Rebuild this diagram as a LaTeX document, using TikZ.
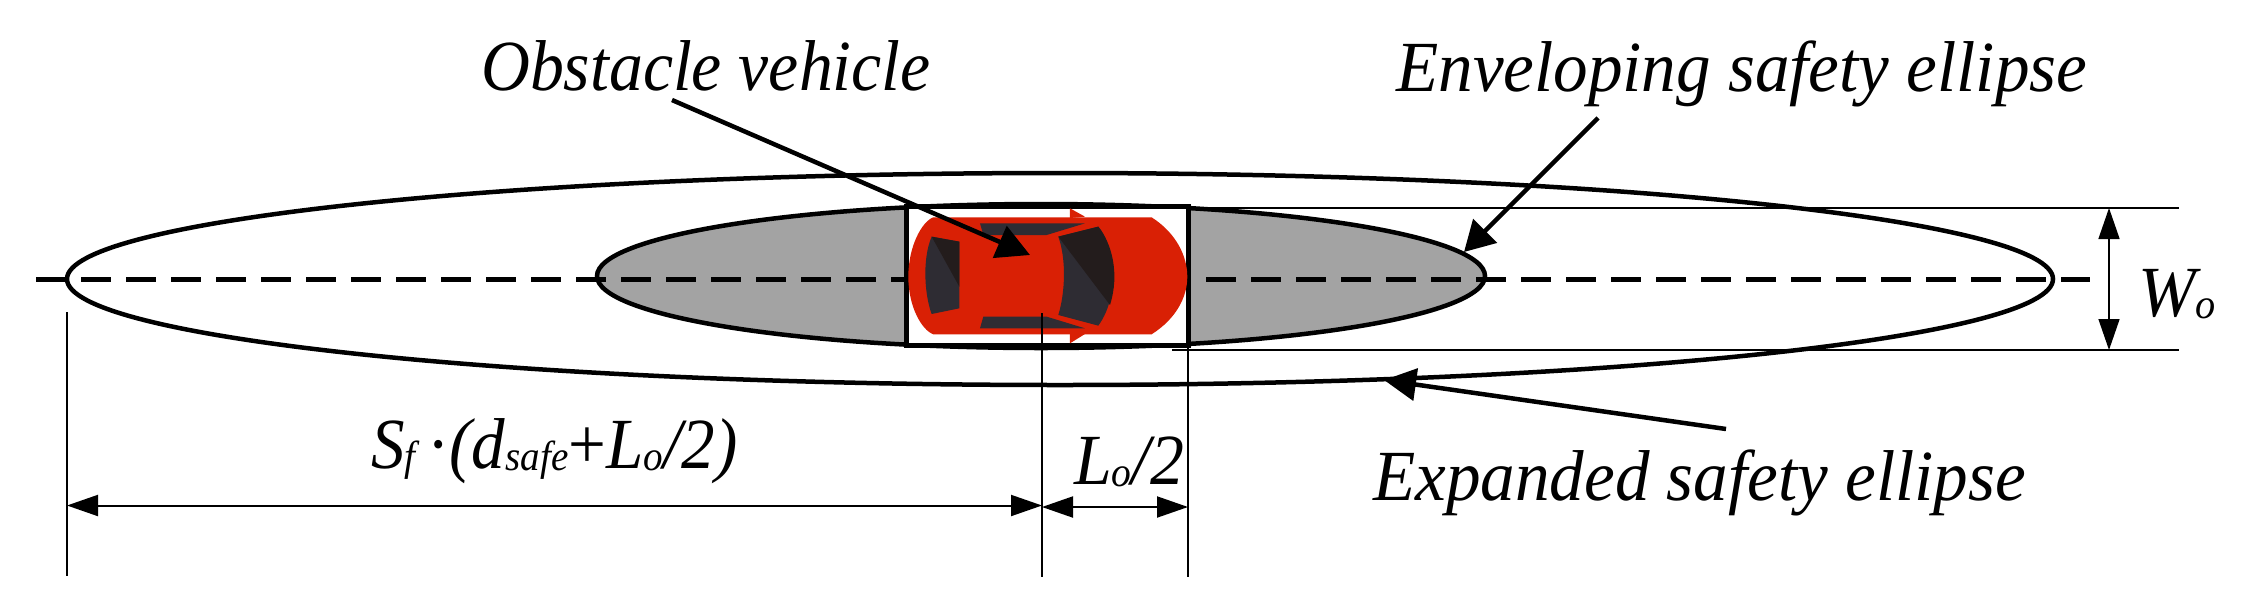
\documentclass[tikz,border=0pt]{standalone}
\usepackage{fontspec}
\setmainfont{Liberation Serif}
\newfontfamily\lab[FakeStretch=0.96,ItalicFeatures={FakeStretch=0.96}]{Liberation Serif}
\usetikzlibrary{arrows.meta,shapes.geometric}
\definecolor{carred}{HTML}{D92005}
\definecolor{glassA}{HTML}{2E2C33}
\definecolor{glassB}{HTML}{231C1C}
\definecolor{zone}{HTML}{A3A3A3}
\newcommand{\labsize}{\fontsize{72}{80}\selectfont\lab\itshape}
\newcommand{\lsub}[1]{\raisebox{-2pt}{\fontsize{42}{46}\selectfont #1}}
\tikzset{
  x=1pt,y=-1pt,
  label text/.style={anchor=base west,inner sep=0pt,font=\labsize},
  thin rule/.style={line width=1.1pt,black},
  dim arrow/.style={line width=2pt,{Triangle[length=31pt,width=21pt]}-{Triangle[length=31pt,width=21pt]}},
  leader/.style={line width=4.5pt},
  curve line/.style={draw=black,line width=4.5pt},
}
\begin{document}
\begin{tikzpicture}
\useasboundingbox (0,0) rectangle (2243,598);
% ellipses
\draw[curve line] (1060,279) ellipse [x radius=993,y radius=106];
\draw[curve line,fill=zone] (1041,276) ellipse [x radius=444,y radius=72];
% centre line
\coordinate (cl1) at (36,279);
\coordinate (cl2) at (2090,279);
\draw[line width=5pt,dash pattern=on 30pt off 15pt] (cl1) -- (cl2);
% envelope box
\draw[fill=white,line width=5pt] (906,206) rectangle (1188,345);
% car
\begin{scope}[shift={(850,180)},x=0.3333pt,y=-0.3333pt]
  \fill[carred] (660,85) -- (705,110) -- (660,114) -- cycle;
  \fill[carred] (660,490) -- (705,462) -- (660,460) -- cycle;
  \fill[carred] (250,112) -- (905,112) .. controls (980,160) and (1012,230) .. (1012,290)
     .. controls (1012,350) and (980,415) .. (905,463) -- (250,463)
     .. controls (215,450) and (175,380) .. (175,290) .. controls (175,200) and (215,125) .. (250,112) -- cycle;
  \fill[glassA] (245,170) -- (328,185) -- (328,385) -- (245,402) .. controls (225,350) and (215,240) .. (245,170) -- cycle;
  \fill[glassB] (245,170) -- (328,185) -- (328,320) -- cycle;
  \fill[glassA] (390,130) -- (705,130) -- (590,165) -- (400,165) -- cycle;
  \fill[glassA] (400,410) -- (590,410) -- (705,445) -- (390,445) -- cycle;
  \fill[glassA] (625,170) -- (745,140) .. controls (790,190) and (815,340) .. (745,437) -- (625,405) .. controls (645,340) and (650,240) .. (625,170) -- cycle;
  \fill[glassB] (625,170) -- (745,140) .. controls (785,190) and (810,280) .. (780,375) -- cycle;
\end{scope}
% extension rules
\coordinate (t1) at (1188,208); \coordinate (t2) at (2179,208);
\coordinate (b1) at (1172,350); \coordinate (b2) at (2179,350);
\draw[thin rule] (t1) -- (t2);
\draw[thin rule] (b1) -- (b2);
\coordinate (v1a) at (67,312);  \coordinate (v1b) at (67,576);
\coordinate (v2a) at (1042,313); \coordinate (v2b) at (1042,577);
\coordinate (v3a) at (1188,345); \coordinate (v3b) at (1188,577);
\draw[thin rule] (v1a) -- (v1b);
\draw[thin rule] (v2a) -- (v2b);
\draw[thin rule] (v3a) -- (v3b);
% dimensions
\coordinate (d1) at (67,505.5); \coordinate (d2) at (1042,505.5);
\coordinate (d3) at (1042,507); \coordinate (d4) at (1188,507);
\draw[dim arrow] (d1) -- (d2);
\draw[dim arrow] (d3) -- (d4);
\coordinate (w1) at (2109,208); \coordinate (w2) at (2109,350);
\draw[dim arrow,line width=1.5pt] (w1) -- (w2);
% leaders
\coordinate (oa) at (672,100); \coordinate (ob) at (1030,255);
\coordinate (ea) at (1598,118); \coordinate (eb) at (1464,252);
\coordinate (xa) at (1726,429); \coordinate (xb) at (1384,380);
\draw[leader,-{Triangle[length=33pt,width=34pt]}] (oa) -- (ob);
\draw[leader,-{Triangle[length=30pt,width=33pt]}] (ea) -- (eb);
\draw[leader,-{Triangle[length=32pt,width=32pt]}] (xa) -- (xb);
% labels
\node[label text] (obst) at (481,90) {\scalebox{0.98}[1]{Obstacle vehicle}};
\node[label text] (env) at (1396,91) {Enveloping safety ellipse};
\node[label text] (exp) at (1373,500) {Expanded safety ellipse};
\node[label text] (wo) at (2138,316) {W\lsub{o}};
\node[label text] (sf) at (371,468) {\scalebox{0.97}[1]{S\lsub{f}\,{\upshape·}(d\lsub{safe}{\upshape +}L\lsub{o}/2)}};
\node[label text] (lo) at (1074,484) {\scalebox{0.98}[1]{L\lsub{o}/2}};
\end{tikzpicture}
\end{document}
